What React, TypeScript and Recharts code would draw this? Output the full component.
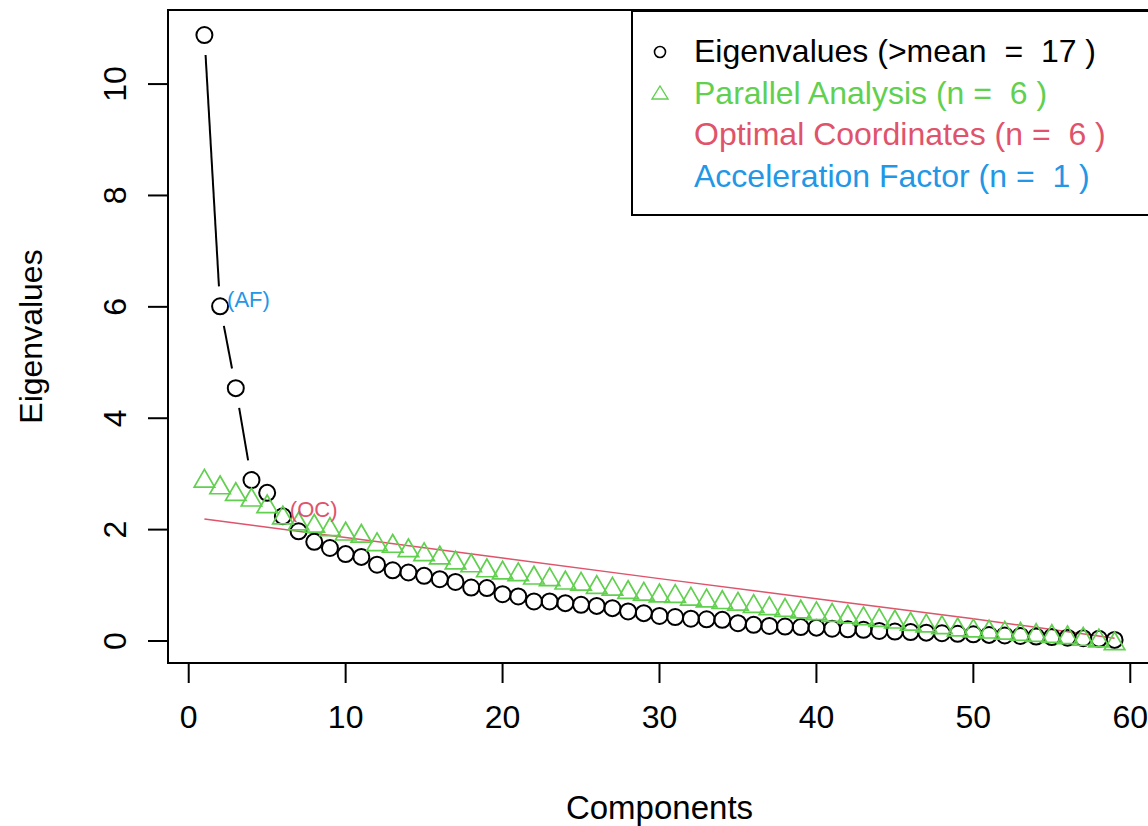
import React from 'react';
import { ComposedChart, XAxis, YAxis, Line, Scatter, ReferenceArea, ReferenceDot, Legend } from 'recharts';

const FONT = "'Liberation Sans', Arial, sans-serif";
const BLACK = '#000000';
const GREEN = '#61D04F';
const RED = '#DF536B';
const BLUE = '#2297E6';

// component index (x axis)
const components = [
  1, 2, 3, 4, 5, 6, 7, 8, 9, 10, 11, 12, 13, 14, 15, 16, 17, 18, 19, 20,
  21, 22, 23, 24, 25, 26, 27, 28, 29, 30, 31, 32, 33, 34, 35, 36, 37, 38, 39, 40,
  41, 42, 43, 44, 45, 46, 47, 48, 49, 50, 51, 52, 53, 54, 55, 56, 57, 58, 59,
];

const eigenvalues = [
  10.88, 6.01, 4.54, 2.89, 2.66, 2.24, 1.97, 1.78, 1.67, 1.56,
  1.51, 1.37, 1.27, 1.23, 1.17, 1.11, 1.06, 0.96, 0.95, 0.84,
  0.8, 0.71, 0.71, 0.68, 0.65, 0.63, 0.59, 0.53, 0.5, 0.45,
  0.43, 0.4, 0.39, 0.38, 0.32, 0.29, 0.27, 0.26, 0.25, 0.24,
  0.22, 0.21, 0.2, 0.18, 0.17, 0.16, 0.15, 0.14, 0.13, 0.12,
  0.11, 0.1, 0.09, 0.08, 0.07, 0.06, 0.05, 0.04, 0.02,
];

const parallelAnalysis = [
  2.87, 2.75, 2.63, 2.53, 2.41, 2.21, 2.1, 2.06, 2.0, 1.92,
  1.88, 1.73, 1.7, 1.62, 1.55, 1.49, 1.4, 1.35, 1.26, 1.22,
  1.19, 1.13, 1.1, 1.04, 1.02, 0.96, 0.93, 0.87, 0.84, 0.81,
  0.8, 0.75, 0.72, 0.69, 0.66, 0.62, 0.58, 0.55, 0.52, 0.49,
  0.46, 0.43, 0.4, 0.37, 0.34, 0.3, 0.27, 0.24, 0.2, 0.18,
  0.16, 0.14, 0.12, 0.1, 0.08, 0.06, 0.03, 0.0, -0.05,
];

// optimal coordinates line, read at a few components
const ocComponents = [1, 10, 20, 30, 40, 50, 59];
const ocValues = [2.19, 1.86, 1.49, 1.12, 0.76, 0.4, 0.05];

const xTicks = [0, 10, 20, 30, 40, 50, 60];
const yTicks = [0, 2, 4, 6, 8, 10];

const legendItems = [
  { label: 'Eigenvalues (>mean  =  17 )', color: BLACK, symbol: 'circle' },
  { label: 'Parallel Analysis (n =  6 )', color: GREEN, symbol: 'triangle' },
  { label: 'Optimal Coordinates (n =  6 )', color: RED, symbol: '' },
  { label: 'Acceleration Factor (n =  1 )', color: BLUE, symbol: '' },
];

const rows = components.map((c, i) => ({ comp: c, eig: eigenvalues[i], pa: parallelAnalysis[i] }));
const ocRows = ocComponents.map((c, i) => ({ comp: c, oc: ocValues[i] }));

const R = 8;
const TRI = 7.6;
const GAP = 20;

const Circle = (p: any) => (
  <circle cx={p.cx} cy={p.cy} r={R} fill="none" stroke={BLACK} strokeWidth={2} />
);

const Triangle = (p: any) => {
  const { cx, cy } = p;
  const pts = `${cx},${cy - 1.555 * TRI} ${cx + 1.347 * TRI},${cy + 0.778 * TRI} ${cx - 1.347 * TRI},${cy + 0.778 * TRI}`;
  return <polygon points={pts} fill="none" stroke={GREEN} strokeWidth={1.7} />;
};

// type="b" style: segments stop short of the points
const gappedLine = (props: any) => {
  const pts = props.points || [];
  const segs = [];
  for (let i = 0; i < pts.length - 1; i++) {
    const a = pts[i];
    const b = pts[i + 1];
    const dx = b.x - a.x;
    const dy = b.y - a.y;
    const len = Math.hypot(dx, dy);
    if (len <= 2 * GAP) continue;
    const ux = dx / len;
    const uy = dy / len;
    segs.push(
      <line key={i} x1={a.x + ux * GAP} y1={a.y + uy * GAP} x2={b.x - ux * GAP} y2={b.y - uy * GAP}
        stroke={BLACK} strokeWidth={2} />
    );
  }
  return <g>{segs}</g>;
};

const XTick = (p: any) => (
  <text x={p.x} y={p.y + 45} textAnchor="middle" fontSize={32} fontFamily={FONT} fill={BLACK}>
    {p.payload.value}
  </text>
);

const YTick = (p: any) => (
  <text x={126} y={p.y} textAnchor="middle" fontSize={32} fontFamily={FONT} fill={BLACK}
    transform={`rotate(-90, 126, ${p.y})`}>
    {p.payload.value}
  </text>
);

const YTitle = (p: any) => {
  const vb = p.viewBox || {};
  const cy = (vb.y ?? 10) + (vb.height ?? 653) / 2;
  return (
    <text x={42} y={cy} textAnchor="middle" fontSize={32} fontFamily={FONT} fill={BLACK}
      transform={`rotate(-90, 42, ${cy})`}>
      Eigenvalues
    </text>
  );
};

const annot = (label: string, color: string) => (p: any) => (
  <text x={p.cx + 7} y={p.cy + 1} fontSize={22} fontFamily={FONT} fill={color}>{label}</text>
);

const LegendBox = () => (
  <div style={{
    boxSizing: 'border-box', width: 560, height: 206, border: '2px solid #000', background: '#fff',
    paddingTop: 19, fontFamily: FONT, fontSize: 32,
  }}>
    {legendItems.map((item) => (
      <div key={item.label} style={{
        position: 'relative', height: 41.7, lineHeight: '41.7px', paddingLeft: 61,
        color: item.color, whiteSpace: 'pre',
      }}>
        <svg width={22} height={22} style={{ position: 'absolute', left: 16, top: 10 }}>
          {item.symbol === 'circle' && <circle cx={11} cy={11} r={5.5} fill="none" stroke={item.color} strokeWidth={1.6} />}
          {item.symbol === 'triangle' && <polygon points="11,3 19,16 3,16" fill="none" stroke={item.color} strokeWidth={1.4} />}
        </svg>
        {item.label}
      </div>
    ))}
  </div>
);

export default function App() {
  return (
    <div style={{ position: 'fixed', left: 0, top: 0, width: 1148, height: 826, overflow: 'hidden', background: '#fff' }}>
      <ComposedChart width={1160} height={826} data={rows} margin={{ top: 10, right: 9, bottom: 0, left: 0 }}>
        <XAxis type="number" dataKey="comp" domain={[-1.32, 61.32]} allowDataOverflow ticks={xTicks} interval={0}
          axisLine={false} tickLine={{ stroke: BLACK, strokeWidth: 2 }} tickSize={20} tickMargin={0}
          height={163} tick={XTick}
          label={{ value: 'Components', position: 'insideBottom', offset: 7, fontSize: 33, fontFamily: FONT, fill: BLACK }} />
        <YAxis type="number" domain={[-0.395, 11.33]} allowDataOverflow ticks={yTicks} interval={0}
          axisLine={false} tickLine={{ stroke: BLACK, strokeWidth: 2 }} tickSize={20} width={168} tick={YTick}
          label={{ content: YTitle }} />
        <ReferenceArea x1={-1.32} x2={61.32} y1={-0.395} y2={11.33} fill="none" stroke={BLACK} strokeWidth={2}
          fillOpacity={0} ifOverflow="visible" />
        <Scatter data={rows} dataKey="eig" shape={Circle} line={gappedLine} lineType="joint" isAnimationActive={false} />
        <Scatter data={rows} dataKey="pa" shape={Triangle} isAnimationActive={false} />
        <Line data={ocRows} dataKey="oc" type="linear" stroke={RED} strokeWidth={1.5} dot={false}
          activeDot={false} isAnimationActive={false} />
        <ReferenceDot x={2} y={eigenvalues[1]} r={1} shape={annot('(AF)', BLUE)} ifOverflow="visible" />
        <ReferenceDot x={6} y={eigenvalues[5]} r={1} shape={annot('(OC)', RED)} ifOverflow="visible" />
        <Legend layout="vertical" align="center" verticalAlign="middle"
          wrapperStyle={{ left: 631, top: 10, width: 560, height: 206 }} content={LegendBox} />
      </ComposedChart>
    </div>
  );
}
